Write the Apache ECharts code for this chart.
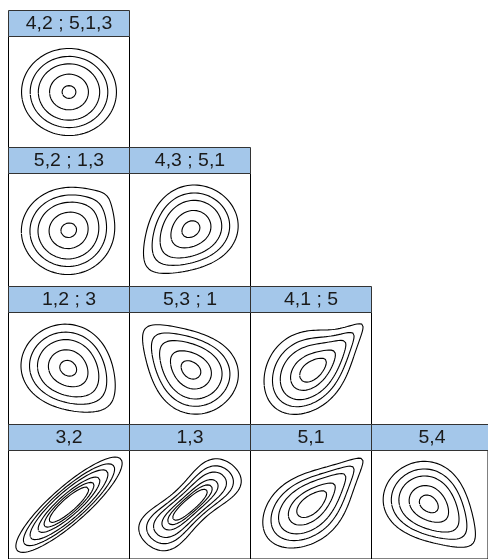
<!DOCTYPE html>
<html><head><meta charset="utf-8">
<script src="https://cdn.jsdelivr.net/npm/echarts@6/dist/echarts.min.js"></script>
<style>html,body{margin:0;padding:0;background:#fff}#c{width:488px;height:559px}</style>
</head><body><div id="c"></div>
<script>
// ---- data ----
const rowLabels = [
  ["4,2 ; 5,1,3"],
  ["5,2 ; 1,3", "4,3 ; 5,1"],
  ["1,2 ; 3", "5,3 ; 1", "4,1 ; 5"],
  ["3,2", "1,3", "5,1", "5,4"]
];
const rowFamilies = [
  ["indep"],
  ["joe", "clayton"],
  ["clayton90", "clayton270", "tawn"],
  ["gauss", "frank", "gumbel", "clayton90"]
];
const rowParams = [
  [[0]],
  [[1.08], [0.33]],
  [[0.25], [0.45], [1.6, 1, 0.6]],
  [[0.87], [8], [1.55], [0.45]]
];
const contourLevels = [0.01, 0.025, 0.05, 0.1, 0.15, 0.2];
const axisRange = [-3, 3];

// ---- density helpers ----
function erfc(x){const z=Math.abs(x);const t=1/(1+0.5*z);
 const r=t*Math.exp(-z*z-1.26551223+t*(1.00002368+t*(0.37409196+t*(0.09678418+t*(-0.18628806+t*(0.27886807+t*(-1.13520398+t*(1.48851587+t*(-0.82215223+t*0.17087277)))))))));
 return x>=0?r:2-r;}
function Phi(x){return 0.5*erfc(-x/Math.SQRT2);}
function phi(x){return Math.exp(-x*x/2)/Math.sqrt(2*Math.PI);}
function clayton(u,v,t){return (1+t)*Math.pow(u*v,-1-t)*Math.pow(Math.pow(u,-t)+Math.pow(v,-t)-1,-1/t-2);}
function frank(u,v,t){const e=1-Math.exp(-t);const d=e-(1-Math.exp(-t*u))*(1-Math.exp(-t*v));
 return t*e*Math.exp(-t*(u+v))/(d*d);}
function joe(u,v,t){const a=Math.pow(1-u,t),b=Math.pow(1-v,t);const s=a+b-a*b;
 return Math.pow(s,1/t-2)*Math.pow(1-u,t-1)*Math.pow(1-v,t-1)*(t-1+s);}
// extreme-value (Tawn; Gumbel when psi1=psi2=1)
function tawn(u,v,th,p1,p2){
 const X=-Math.log(u),Y=-Math.log(v),s=X+Y,t=Y/s;
 const a=p1*(1-t),b=p2*t,S=Math.pow(a,th)+Math.pow(b,th);
 const B=Math.pow(S,1/th);
 const g=-p1*Math.pow(a,th-1)+p2*Math.pow(b,th-1);
 const A=(1-p1)*(1-t)+(1-p2)*t+B;
 const A1=p1-p2+Math.pow(S,1/th-1)*g;
 const A2=(1-th)*Math.pow(S,1/th-2)*g*g+Math.pow(S,1/th-1)*(th-1)*(p1*p1*Math.pow(a,th-2)+p2*p2*Math.pow(b,th-2));
 const C=Math.exp(-s*A);
 return C/(u*v)*((A-t*A1)*(A+(1-t)*A1)+t*(1-t)*A2/s);
}
function density(fam,p,x,y){
 if(fam==="gauss"){const r=p[0];const q=1-r*r;return Math.exp(-(x*x-2*r*x*y+y*y)/(2*q))/(2*Math.PI*Math.sqrt(q));}
 const u=Phi(x),v=Phi(y),m=phi(x)*phi(y);
 switch(fam){
  case "indep":return m;
  case "clayton":return clayton(u,v,p[0])*m;
  case "clayton90":return clayton(1-u,v,p[0])*m;
  case "clayton180":return clayton(1-u,1-v,p[0])*m;
  case "clayton270":return clayton(u,1-v,p[0])*m;
  case "gumbel":return tawn(u,v,p[0],1,1)*m;
  case "tawn":return tawn(u,v,p[0],p[1],p[2])*m;
  case "frank":return frank(u,v,p[0])*m;
  case "joe":return joe(u,v,p[0])*m;
 }
 return m;
}
// ---- marching squares ----
function densityGrid(fam,p,N){
 const a0=axisRange[0],h=(axisRange[1]-a0)/N;const V=[];
 for(let i=0;i<=N;i++){V.push([]);for(let j=0;j<=N;j++)V[i].push(density(fam,p,a0+i*h,a0+j*h));}
 return V;
}
function contourLines(V,level,N){
 const a0=axisRange[0],h=(axisRange[1]-a0)/N;
 const pts={};const segs=[];
 function ep(key,i1,j1,i2,j2){if(!pts[key]){const v1=V[i1][j1],v2=V[i2][j2];const t=(level-v1)/(v2-v1);
   pts[key]=[a0+(i1+t*(i2-i1))*h,a0+(j1+t*(j2-j1))*h];}return key;}
 for(let i=0;i<N;i++)for(let j=0;j<N;j++){
  const A=V[i][j]>=level,B=V[i+1][j]>=level,C=V[i+1][j+1]>=level,D=V[i][j+1]>=level;
  const e={};
  if(A!==B)e.b=ep('h'+i+'_'+j,i,j,i+1,j);
  if(B!==C)e.r=ep('v'+(i+1)+'_'+j,i+1,j,i+1,j+1);
  if(D!==C)e.t=ep('h'+i+'_'+(j+1),i,j+1,i+1,j+1);
  if(A!==D)e.l=ep('v'+i+'_'+j,i,j,i,j+1);
  const ks=Object.keys(e);
  if(ks.length===2)segs.push([e[ks[0]],e[ks[1]]]);
  else if(ks.length===4){const c=(V[i][j]+V[i+1][j]+V[i+1][j+1]+V[i][j+1])/4>=level;
   if(A){ if(c){segs.push([e.b,e.r]);segs.push([e.t,e.l]);} else {segs.push([e.b,e.l]);segs.push([e.r,e.t]);} }
   else { if(c){segs.push([e.b,e.l]);segs.push([e.r,e.t]);} else {segs.push([e.b,e.r]);segs.push([e.t,e.l]);} }
  }
 }
 const adj={};segs.forEach((s,k)=>{(adj[s[0]]=adj[s[0]]||[]).push(k);(adj[s[1]]=adj[s[1]]||[]).push(k);});
 const used=new Array(segs.length).fill(false);const lines=[];
 for(let s=0;s<segs.length;s++){if(used[s])continue;used[s]=true;const path=[segs[s][0],segs[s][1]];
  for(const dir of [1,-1]){let cur=dir===1?path[path.length-1]:path[0];
   while(true){const nx=(adj[cur]||[]).find(k=>!used[k]);if(nx===undefined)break;used[nx]=true;
    const o=segs[nx][0]===cur?segs[nx][1]:segs[nx][0];if(dir===1)path.push(o);else path.unshift(o);cur=o;}}
  lines.push(path.map(k=>pts[k]));}
 return lines;
}
// ---- layout ----
const colX=[8,129,250,371], colW=121;
const rowTop=[10,147,286,424], headH=26, panelH=[111,113,113,112];
const grids=[],xAxes=[],yAxes=[],series=[],graphics=[];
const NG=150;
let gi=0;
rowLabels.forEach((labels,r)=>{labels.forEach((lab,c)=>{
 const x=colX[c],y=rowTop[r];
 graphics.push({type:'rect',shape:{x:x+0.5,y:y+0.5,width:colW,height:headH},style:{fill:'#a4c7ea',stroke:'#333',lineWidth:1},z:10});
 graphics.push({type:'text',x:x+colW/2+0.5,y:y+headH/2+1,scaleX:1.1,style:{text:lab,x:0,y:0,align:'center',verticalAlign:'middle',font:'17.7px "Liberation Sans", Arial, sans-serif',fill:'#1a1a1a'},z:11});
 grids.push({left:x+0.5,top:y+headH+0.5,width:colW,height:panelH[r],show:true,borderColor:'#000',borderWidth:1,backgroundColor:'#fff'});
 xAxes.push({type:'value',gridIndex:gi,min:axisRange[0],max:axisRange[1],show:false});
 yAxes.push({type:'value',gridIndex:gi,min:axisRange[0],max:axisRange[1],show:false});
 const V=densityGrid(rowFamilies[r][c],rowParams[r][c],NG);
 contourLevels.forEach(L=>{contourLines(V,L,NG).forEach(line=>{
   series.push({type:'line',xAxisIndex:gi,yAxisIndex:gi,data:line,showSymbol:false,symbol:'none',silent:true,animation:false,clip:true,
     lineStyle:{color:'#000',width:1.1}});
 });});
 gi++;
});});
const chart=echarts.init(document.getElementById('c'),null,{renderer:'canvas'});
chart.setOption({animation:false,grid:grids,xAxis:xAxes,yAxis:yAxes,series:series,graphic:graphics});
</script></body></html>
